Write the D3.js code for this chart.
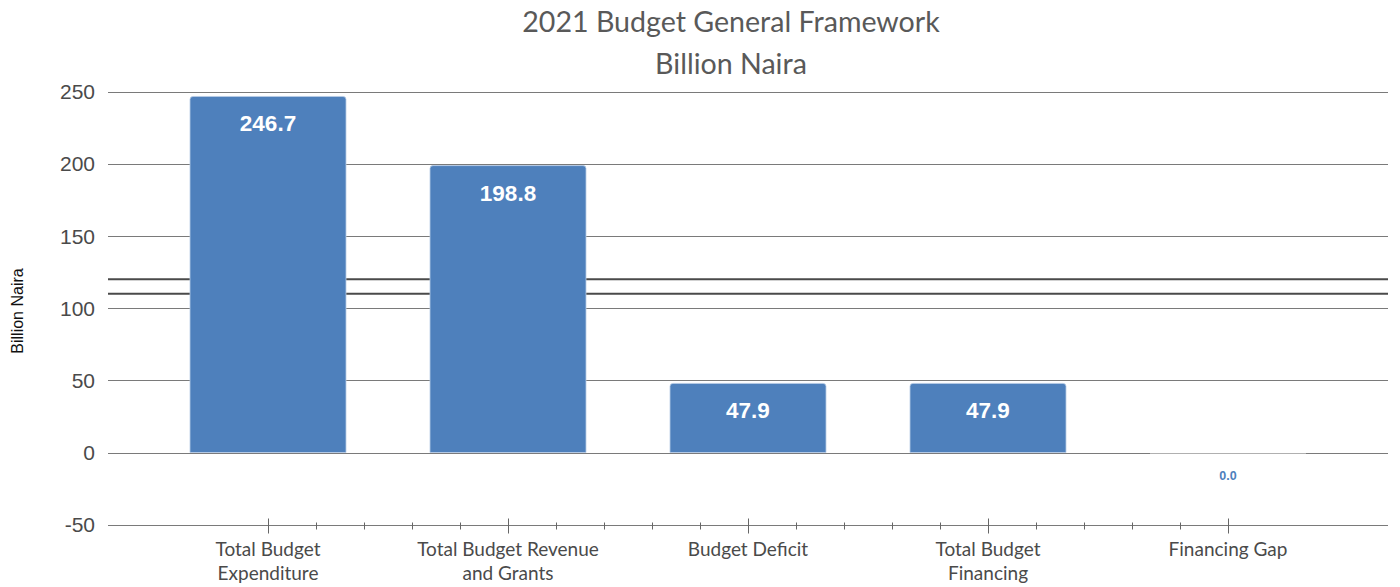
<!DOCTYPE html>
<html>
<head>
<meta charset="utf-8">
<script src="https://cdn.jsdelivr.net/npm/d3@7"></script>
<style>
  body { margin: 0; background: #fff; }
  svg { display: block; }
</style>
</head>
<body>
<svg width="1400" height="587"></svg>
<script>
var categories = [
  'Total Budget\nExpenditure',
  'Total Budget Revenue\nand Grants',
  'Budget Deficit',
  'Total Budget\nFinancing',
  'Financing Gap'
];
var values = [246.7, 198.8, 47.9, 47.9, 0.0];
var yTicks = [-50, 0, 50, 100, 150, 200, 250];
var markerLines = [110, 120];

var svg = d3.select('svg'),
  width = +svg.attr('width'),
  height = +svg.attr('height');

var left = 108, right = 1388;

var y = d3.scaleLinear().domain([-50, 250]).range([524.7, 91.7]);
var x = d3
  .scaleBand()
  .domain(categories)
  .range([148, 1348])
  .paddingInner(0.35)
  .paddingOuter(0.175);

// title
svg
  .append('g')
  .attr('font-family', 'Lato, sans-serif')
  .attr('font-size', 28.6)
  .attr('fill', '#595959')
  .attr('text-anchor', 'middle')
  .selectAll('text')
  .data(['2021 Budget General Framework', 'Billion Naira'])
  .enter()
  .append('text')
  .attr('x', 731)
  .attr('y', function(d, i) {
    return 32 + i * 42;
  })
  .text(function(d) {
    return d;
  });

// gridlines
svg
  .append('g')
  .selectAll('line')
  .data(yTicks)
  .enter()
  .append('line')
  .attr('x1', left)
  .attr('x2', right)
  .attr('y1', function(d) {
    return Math.round(y(d)) + 0.5;
  })
  .attr('y2', function(d) {
    return Math.round(y(d)) + 0.5;
  })
  .attr('stroke', '#7a7a7a')
  .attr('stroke-width', 1);

svg
  .append('g')
  .selectAll('line')
  .data(markerLines)
  .enter()
  .append('line')
  .attr('x1', left)
  .attr('x2', right)
  .attr('y1', function(d) {
    return y(d);
  })
  .attr('y2', function(d) {
    return y(d);
  })
  .attr('stroke', '#4a4a4a')
  .attr('stroke-width', 2);

// y tick labels
svg
  .append('g')
  .attr('font-family', 'Liberation Sans, Arial, sans-serif')
  .attr('font-size', 21)
  .attr('fill', '#4a4a4a')
  .attr('text-anchor', 'end')
  .selectAll('text')
  .data(yTicks)
  .enter()
  .append('text')
  .attr('x', 95)
  .attr('y', function(d) {
    return y(d) + 7.5;
  })
  .text(function(d) {
    return d;
  });

svg
  .append('text')
  .attr('transform', 'translate(23,311) rotate(-90)')
  .attr('text-anchor', 'middle')
  .attr('font-family', 'Liberation Sans, Arial, sans-serif')
  .attr('font-size', 16)
  .attr('fill', '#111')
  .text('Billion Naira');

// bars
function barPath(d, i) {
  var x0 = x(categories[i]),
    w = x.bandwidth(),
    top = y(Math.max(d, 0)),
    base = y(0),
    r = Math.min(3, base - top);
  if (base - top < 0.5) return '';
  return (
    'M' + x0 + ',' + base +
    'V' + (top + r) +
    'Q' + x0 + ',' + top + ' ' + (x0 + r) + ',' + top +
    'H' + (x0 + w - r) +
    'Q' + (x0 + w) + ',' + top + ' ' + (x0 + w) + ',' + (top + r) +
    'V' + base + 'Z'
  );
}

svg
  .append('g')
  .selectAll('path')
  .data(values)
  .enter()
  .append('path')
  .attr('d', barPath)
  .attr('fill', '#4e80bc')
  .attr('stroke', '#b9cde6')
  .attr('stroke-width', 0.8);

// zero-height bar outline
svg
  .append('g')
  .selectAll('line')
  .data(values.filter(function(d) {
    return d === 0;
  }))
  .enter()
  .append('line')
  .attr('x1', x(categories[values.indexOf(0)]))
  .attr('x2', x(categories[values.indexOf(0)]) + x.bandwidth())
  .attr('y1', Math.round(y(0)) + 0.5)
  .attr('y2', Math.round(y(0)) + 0.5)
  .attr('stroke', '#b0b0b0')
  .attr('stroke-width', 1);

// value labels
svg
  .append('g')
  .attr('font-family', 'Liberation Sans, Arial, sans-serif')
  .attr('font-weight', 'bold')
  .attr('text-anchor', 'middle')
  .selectAll('text')
  .data(values)
  .enter()
  .append('text')
  .attr('x', function(d, i) {
    return x(categories[i]) + x.bandwidth() / 2;
  })
  .attr('y', function(d) {
    return d > 0 ? y(d) + 35 : y(0) + 27;
  })
  .attr('font-size', function(d) {
    return d > 0 ? 22.5 : 12.5;
  })
  .attr('fill', function(d) {
    return d > 0 ? '#fff' : '#4e80bc';
  })
  .text(function(d) {
    return d3.format('.1f')(d);
  });

// category axis along -50
var axisY = Math.round(y(-50)) + 0.5;
var step = x.step();
var centers = categories.map(function(c) {
  return x(c) + x.bandwidth() / 2;
});
var minor = [];
centers.slice(0, -1).forEach(function(c) {
  for (var k = 1; k < 5; k++) minor.push(c + (k * step) / 5);
});

var axis = svg.append('g').attr('stroke', '#666').attr('stroke-width', 1);
axis
  .selectAll('line.major')
  .data(centers)
  .enter()
  .append('line')
  .attr('class', 'major')
  .attr('x1', function(d) {
    return Math.round(d) + 0.5;
  })
  .attr('x2', function(d) {
    return Math.round(d) + 0.5;
  })
  .attr('y1', axisY - 7)
  .attr('y2', axisY + 8);
axis
  .selectAll('line.minor')
  .data(minor)
  .enter()
  .append('line')
  .attr('class', 'minor')
  .attr('x1', function(d) {
    return Math.round(d) + 0.5;
  })
  .attr('x2', function(d) {
    return Math.round(d) + 0.5;
  })
  .attr('y1', axisY - 3)
  .attr('y2', axisY + 4);

var catLabels = svg
  .append('g')
  .attr('font-family', 'Lato, sans-serif')
  .attr('font-size', 19)
  .attr('fill', '#4a4a4a')
  .attr('text-anchor', 'middle')
  .selectAll('text')
  .data(categories)
  .enter()
  .append('text')
  .attr('x', function(d) {
    return x(d) + x.bandwidth() / 2;
  })
  .attr('y', 556);

catLabels
  .selectAll('tspan')
  .data(function(d) {
    return d.split('\n');
  })
  .enter()
  .append('tspan')
  .attr('x', function() {
    var p = d3.select(this.parentNode).datum();
    return x(p) + x.bandwidth() / 2;
  })
  .attr('dy', function(d, i) {
    return i === 0 ? 0 : 24;
  })
  .text(function(d) {
    return d;
  });
</script>
</body>
</html>
